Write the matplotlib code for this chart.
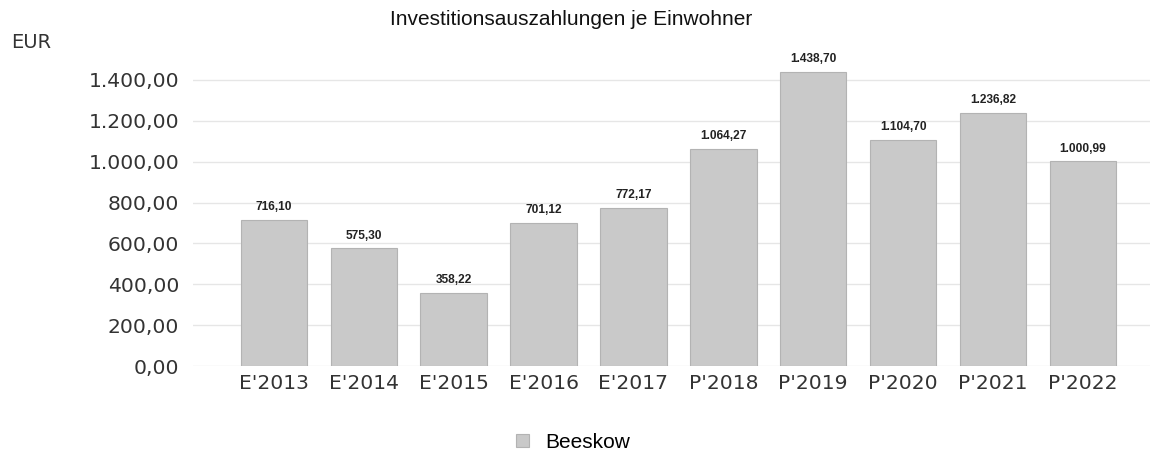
import matplotlib.pyplot as plt
from matplotlib.ticker import FuncFormatter

# Data
categories = ["E'2013", "E'2014", "E'2015", "E'2016", "E'2017",
              "P'2018", "P'2019", "P'2020", "P'2021", "P'2022"]
values = [716.10, 575.30, 358.22, 701.12, 772.17,
          1064.27, 1438.70, 1104.70, 1236.82, 1000.99]
yticks = [0, 200, 400, 600, 800, 1000, 1200, 1400]


def de_format(v, pos=None):
    s = f"{v:,.2f}"
    return s.replace(",", "X").replace(".", ",").replace("X", ".")


fig = plt.figure(figsize=(11.56, 4.61), dpi=100)
ax = fig.add_axes([0.167, 0.206, 0.828, 0.665])

x = range(len(categories))
bars = ax.bar(x, values, width=0.74, color="#c9c9c9", edgecolor="#b3b3b3",
              linewidth=0.8, label="Beeskow", zorder=2)

# value labels above bars
for b, v in zip(bars, values):
    ax.annotate(de_format(v), (b.get_x() + b.get_width() / 2, v),
                xytext=(0, 5), textcoords="offset points",
                ha="center", va="bottom", fontsize=8.6, fontweight="bold",
                family="Liberation Sans", color="#222222")

ax.set_xlim(-0.9, 9.75)
ax.set_ylim(0, 1500)
ax.set_yticks(yticks)
ax.yaxis.set_major_formatter(FuncFormatter(de_format))
ax.set_xticks(list(x))
ax.set_xticklabels(categories)
ax.tick_params(axis="both", length=0, labelsize=14.6, colors="#333333")
ax.tick_params(axis="y", pad=10)
ax.tick_params(axis="x", pad=6)
ax.grid(axis="y", color="#e6e6e6", linewidth=1, zorder=0)
for s in ax.spines.values():
    s.set_visible(False)

fig.text(0.494, 0.958, "Investitionsauszahlungen je Einwohner",
         ha="center", va="center", fontsize=15, family="Liberation Sans",
         color="#111111")
fig.text(0.010, 0.908, "EUR", ha="left", va="center", fontsize=14,
         color="#333333")

fig.legend(handles=[bars], labels=["Beeskow"], loc="center",
           bbox_to_anchor=(0.496, 0.040), frameon=False,
           handlelength=0.6, handleheight=0.6, handletextpad=0.8,
           prop={"family": "Liberation Sans", "size": 15})

fig.savefig("out.png", dpi=100)
